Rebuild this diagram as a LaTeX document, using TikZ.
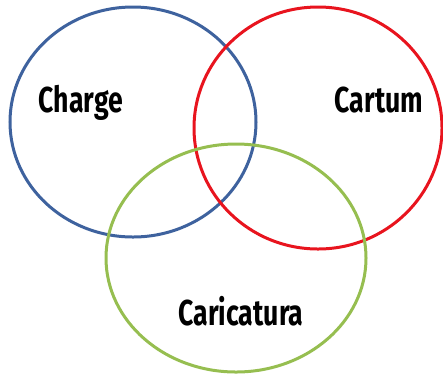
\documentclass[tikz,border=0pt]{standalone}
\usepackage{fontspec}
\newfontfamily\labelfont[FakeStretch=0.74]{Fira Sans}
\definecolor{cblue}{RGB}{62,98,158}
\definecolor{cred}{RGB}{232,20,30}
\definecolor{cgreen}{RGB}{150,190,80}
\begin{document}
\begin{tikzpicture}[x=1pt,y=-1pt,
  ring/.style={line width=3pt},
  lbl/.style={font=\labelfont\bfseries\fontsize{36}{36}\selectfont, inner sep=0pt}]
\useasboundingbox (0,0) rectangle (443,376);
\draw[ring, cblue] (133,122) ellipse [x radius=123, y radius=115];
\draw[ring, cred] (318,128) ellipse [x radius=124, y radius=121];
\draw[ring, cgreen] (236,258) ellipse [x radius=130, y radius=114];
\node[lbl] (charge) at (81,103) {Charge};
\node[lbl] (cartum) at (379,100) {Cartum};
\node[lbl] (caric) at (241,311) {Caricatura};
\end{tikzpicture}
\end{document}
